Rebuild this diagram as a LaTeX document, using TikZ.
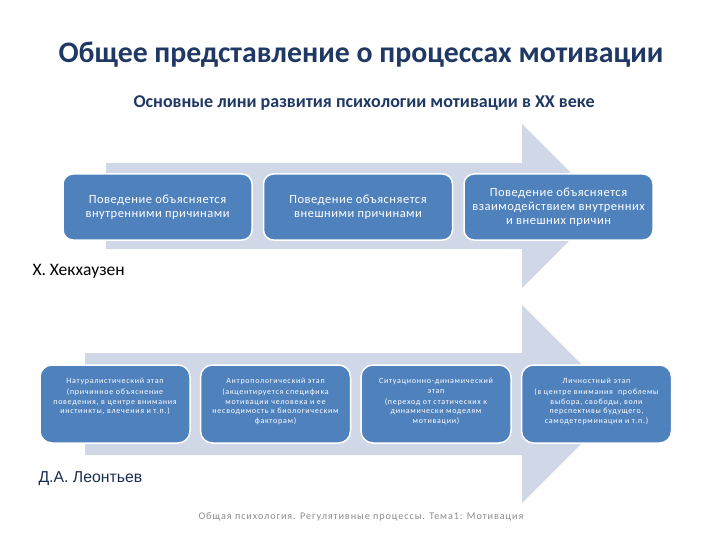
\documentclass[tikz,border=0pt]{standalone}
\usepackage{fontspec}
\setmainfont{Carlito}
\newfontfamily\arialfont{Liberation Sans}
\newfontfamily\spacedfont[LetterSpace=4]{Carlito}
\newfontfamily\widefont[LetterSpace=9]{Carlito}
\usetikzlibrary{positioning}
\definecolor{titlenavy}{HTML}{1F3864}
\definecolor{boxblue}{HTML}{4F81BD}
\definecolor{arrowgray}{HTML}{D0D8E8}
\definecolor{footgray}{HTML}{8C8C8C}

\begin{document}
\begin{tikzpicture}[
    x=1pt, y=-1pt,
    node distance=9pt,
    ideabox/.style={draw=white, line width=1.5pt, fill=boxblue, rounded corners=10pt, minimum width=189pt, minimum height=66pt, text=white, align=center, font=\spacedfont\fontsize{12.5}{14}\selectfont},
    stagebox/.style={draw=white, line width=1.5pt, fill=boxblue, rounded corners=12pt, minimum width=150pt, minimum height=78pt},
    stagetext/.style={text=white, align=center, inner sep=0pt, font=\widefont\fontsize{8}{9.5}\selectfont},
]
\useasboundingbox (0,0) rectangle (720,540);

% big background arrows
\fill[arrowgray] (106,163) -- (522,163) -- (522,124) -- (604,206) -- (522,288) -- (522,249) -- (106,249) -- cycle;
\fill[arrowgray] (85,353) -- (522,353) -- (522,305) -- (621,404) -- (522,503) -- (522,455) -- (85,455) -- cycle;

% headings
\node[font=\fontsize{29.8}{34}\bfseries, text=titlenavy] (title) at (361,55) {Общее представление о процессах мотивации};
\node[font=\fontsize{18}{21}\bfseries, text=titlenavy] (subtitle) at (364,103) {Основные лини развития психологии мотивации в XX веке};

% Heckhausen
\node[ideabox] (h1) at (157.5,207) {Поведение объясняется\\внутренними причинами};
\node[ideabox, right=10pt of h1] (h2) {Поведение объясняется\\внешними причинами};
\node[ideabox, right=10pt of h2] (h3) {Поведение объясняется\\взаимодействием внутренних\\и внешних причин};
\node[font=\fontsize{17.5}{20}\selectfont, anchor=west] (heck) at (29,271) {Х. Хекхаузен};

% Leontiev
\node[stagebox] (l1) at (115,404) {};
\node[stagebox, right=of l1] (l2) {};
\node[stagebox, right=of l2] (l3) {};
\node[stagebox, right=of l3] (l4) {};
\node[stagetext, below=14pt of l1.north] (t1) {Натуралистический этап\\[1.5pt](причинное объяснение\\поведения, в центре внимания\\инстинкты, влечения и т.п.)};
\node[stagetext, below=14pt of l2.north] (t2) {Антропологический этап\\[1.5pt](акцентируется специфика\\мотивации человека и ее\\несводимость к биологическим\\факторам)};
\node[stagetext, below=14pt of l3.north] (t3) {Ситуационно-динамический\\этап\\[1.5pt](переход от статических к\\динамически моделям\\мотивации)};
\node[stagetext, below=14pt of l4.north] (t4) {Личностный этап\\[1.5pt](в центре внимания~~проблемы\\выбора, свободы, воли\\перспективы будущего,\\самодетерминации и т.п.)};
\node[font=\arialfont\fontsize{15.8}{18}\selectfont, text=titlenavy!80!black, anchor=west] (leon) at (35,479) {Д.А. Леонтьев};

% footer
\node[font=\widefont\fontsize{10.2}{12}\selectfont, text=footgray] (foot) at (361,517) {Общая психология. Регулятивные процессы. Тема1: Мотивация};

\end{tikzpicture}
\end{document}
